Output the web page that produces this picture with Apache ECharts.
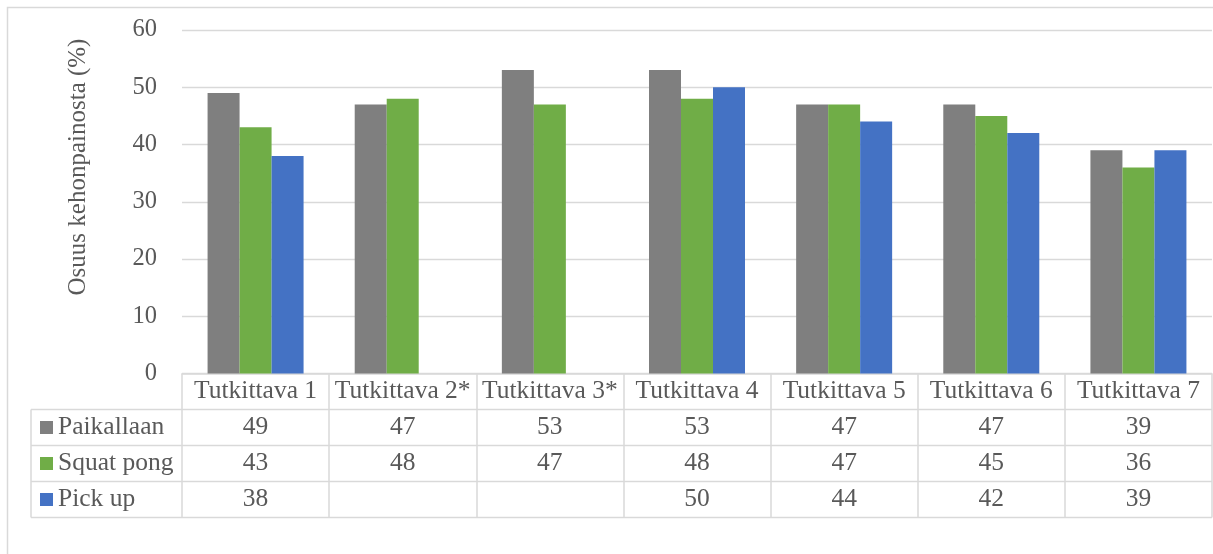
<!DOCTYPE html>
<html>
<head>
<meta charset="utf-8">
<script src="https://cdn.jsdelivr.net/npm/echarts@6/dist/echarts.min.js"></script>
<style>
  html, body { margin: 0; padding: 0; background: #fff; }
  #chart { width: 1213px; height: 554px; }
</style>
</head>
<body>
<div id="chart"></div>
<script>
// data
const categories = ['Tutkittava 1', 'Tutkittava 2*', 'Tutkittava 3*', 'Tutkittava 4', 'Tutkittava 5', 'Tutkittava 6', 'Tutkittava 7']
const seriesNames = ['Paikallaan', 'Squat pong', 'Pick up']
const paikallaan = [49, 47, 53, 53, 47, 47, 39]
const squatPong = [43, 48, 47, 48, 47, 45, 36]
const pickUp = [38, null, null, 50, 44, 42, 39]
const yMin = 0
const yMax = 60
const yStep = 10

const colors = ['#7f7f7f', '#70ad47', '#4472c4']
const rows = [paikallaan, squatPong, pickUp]
const font = '"Liberation Serif", "Times New Roman", serif'
const textColor = '#595959'
const lineColor = '#d9d9d9'
const tableFontSize = 25.5

// layout
const W = 1213
const H = 554
const gridLeft = 182
const gridRight = 1
const gridTop = 30
const axisY = 373.5
const rowH = 36
const tableLeft = 31

const chart = echarts.init(document.getElementById('chart'))

const labelStyle = {
  interval: 0,
  hideOverlap: false,
  fontFamily: font,
  fontSize: tableFontSize,
  color: textColor,
  verticalAlign: 'middle',
  margin: rowH / 2
}

const xAxes = [{
  type: 'category',
  data: categories,
  position: 'bottom',
  axisLine: { show: true, lineStyle: { color: lineColor, width: 1.5 } },
  axisTick: { show: true, inside: false, length: rowH * 4, lineStyle: { color: lineColor, width: 1.5 } },
  axisLabel: labelStyle
}]
rows.forEach((row, k) => {
  xAxes.push({
    type: 'category',
    data: categories,
    position: 'bottom',
    offset: rowH * (k + 1),
    axisLine: { show: false },
    axisTick: { show: false },
    axisLabel: Object.assign({}, labelStyle, {
      formatter: (v, i) => row[i] == null ? '' : String(row[i])
    })
  })
})

// table lines below the header, outer frame, axis title
const graphics = [{
  type: 'rect',
  shape: { x: 7.5, y: 7.5, width: W + 20, height: H + 20 },
  style: { fill: null, stroke: lineColor, lineWidth: 1.5 },
  silent: true
}, {
  type: 'line',
  shape: { x1: tableLeft, y1: axisY + rowH, x2: tableLeft, y2: axisY + rowH * 4 },
  style: { stroke: lineColor, lineWidth: 1.5 }
}, {
  type: 'text',
  x: 78,
  y: 167,
  rotation: Math.PI / 2,
  style: {
    text: 'Osuus kehonpainosta (%)',
    fontFamily: font,
    fontSize: 25,
    fill: textColor,
    align: 'center',
    verticalAlign: 'middle'
  }
}]
for (let k = 1; k <= 4; k++) {
  graphics.push({
    type: 'line',
    shape: { x1: tableLeft, y1: axisY + rowH * k, x2: W - gridRight, y2: axisY + rowH * k },
    style: { stroke: lineColor, lineWidth: 1.5 }
  })
}

chart.setOption({
  animation: false,
  backgroundColor: '#fff',
  color: colors,
  grid: {
    left: gridLeft,
    right: gridRight,
    top: gridTop,
    bottom: H - axisY,
    containLabel: false
  },
  legend: {
    data: seriesNames,
    orient: 'vertical',
    left: 40,
    top: axisY + rowH + 5,
    padding: 0,
    itemGap: rowH - 26,
    itemWidth: 13,
    itemHeight: 13,
    icon: 'rect',
    selectedMode: false,
    textStyle: { fontFamily: font, fontSize: tableFontSize, color: textColor, lineHeight: 26 }
  },
  xAxis: xAxes,
  yAxis: {
    type: 'value',
    min: yMin,
    max: yMax,
    interval: yStep,
    axisLine: { show: false },
    axisTick: { show: false },
    splitLine: { lineStyle: { color: lineColor, width: 1.3 } },
    axisLabel: { fontFamily: font, fontSize: 24.5, color: textColor, margin: 25 }
  },
  graphic: graphics,
  series: seriesNames.map((name, i) => ({
    name: name,
    type: 'bar',
    xAxisIndex: 0,
    data: rows[i],
    barWidth: 32,
    barGap: '0%',
    itemStyle: { color: colors[i] }
  }))
})
</script>
</body>
</html>
